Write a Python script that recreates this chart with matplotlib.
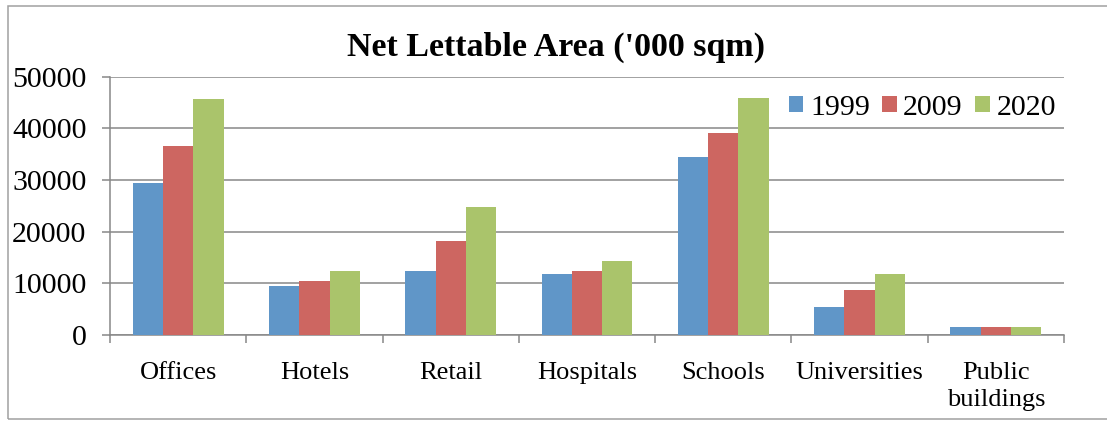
import matplotlib
matplotlib.use("Agg")
import matplotlib.pyplot as plt
import numpy as np
from matplotlib.patches import Rectangle

categories = ["Offices", "Hotels", "Retail", "Hospitals", "Schools",
              "Universities", "Public\nbuildings"]
years = ["1999", "2009", "2020"]
area_1999 = [29500, 9400, 12400, 11900, 34500, 5400, 1500]
area_2009 = [36500, 10500, 18100, 12300, 39100, 8700, 1600]
area_2020 = [45700, 12300, 24700, 14400, 45900, 11900, 1600]
y_ticks = [0, 10000, 20000, 30000, 40000, 50000]

series = [area_1999, area_2009, area_2020]
colors = ["#6096C8", "#CD6661", "#AAC46B"]
grid_gray = "#888888"
font = "Liberation Serif"

W, H = 1107, 421
fig = plt.figure(figsize=(W / 100, H / 100), dpi=100)
ax = fig.add_axes([110 / W, 1 - 335 / H, (1064 - 110) / W, (335 - 76.7) / H])

# outer chart border
fig.patches.append(Rectangle((7.5 / W, 1 - 419.3 / H), (1112 - 7.5) / W, (419.3 - 6.3) / H,
                             transform=fig.transFigure, fill=False,
                             edgecolor="#A0A0A0", linewidth=1.1))

x = np.arange(len(categories))
bw = 1 / 4.5
for k, (vals, col, yr) in enumerate(zip(series, colors, years)):
    ax.bar(x + (k - 1) * bw, vals, width=bw, color=col, label=yr, linewidth=0, zorder=3)

ax.set_xlim(-0.5, len(categories) - 0.5)
ax.set_ylim(0, 50000)

for s in ["top", "right"]:
    ax.spines[s].set_visible(False)
for s in ["left", "bottom"]:
    ax.spines[s].set_color(grid_gray)
    ax.spines[s].set_linewidth(1.1)

ax.set_yticks(y_ticks)
ax.set_yticklabels([str(v) for v in y_ticks], fontfamily=font, fontsize=21.5)
ax.tick_params(axis="y", direction="out", length=6, width=1.1, color=grid_gray, pad=11)
ax.yaxis.grid(True, color=grid_gray, linewidth=1.1, zorder=0)
ax.set_axisbelow(True)

ax.set_xticks(x)
ax.set_xticklabels(categories, fontfamily=font, fontsize=19, linespacing=1.3)
ax.tick_params(axis="x", which="major", length=0, pad=19.5)
ax.set_xticks(np.arange(len(categories) + 1) - 0.5, minor=True)
ax.tick_params(axis="x", which="minor", direction="out", length=6, width=1.1, color=grid_gray)

fig.text(556 / W, 1 - 56 / H, "Net Lettable Area ('000 sqm)", ha="center", va="baseline",
         fontfamily=font, fontsize=24.5, fontweight="bold")

leg = ax.legend(loc="center left", bbox_to_anchor=(789 / W, 1 - 107.5 / H),
                bbox_transform=fig.transFigure, ncol=3, frameon=False,
                prop={"family": font, "size": 21.5}, handlelength=0.48, handleheight=0.48,
                handletextpad=0.22, columnspacing=0.42, borderpad=0, borderaxespad=0)

fig.savefig("out.png", dpi=100)
